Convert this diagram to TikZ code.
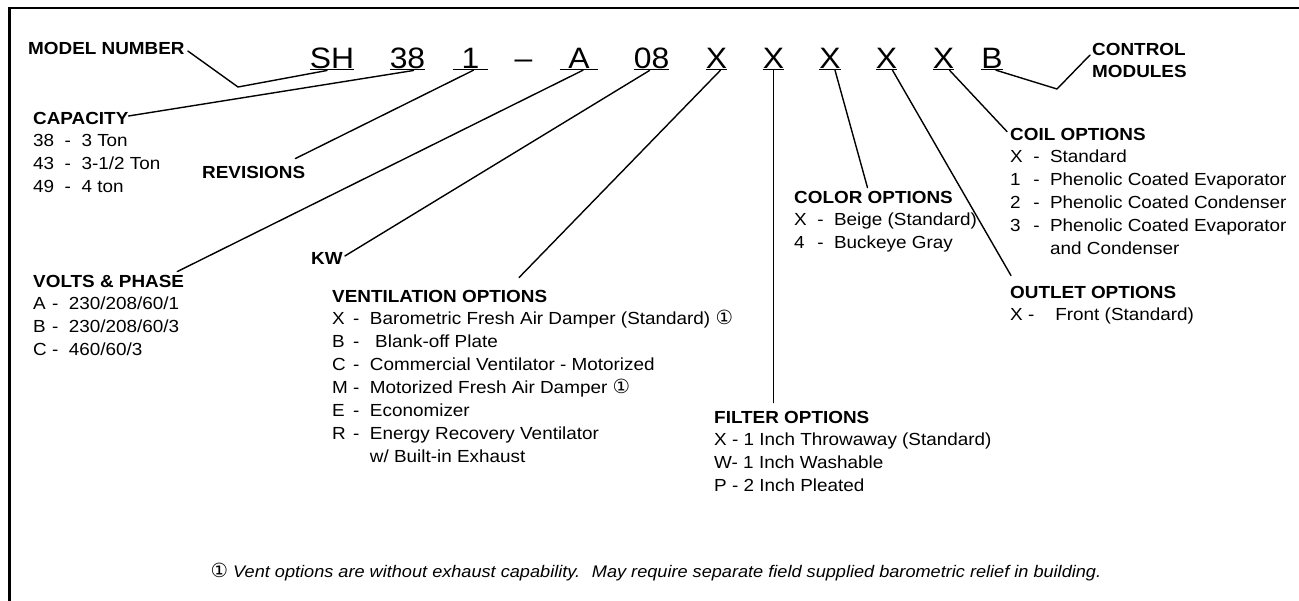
\documentclass[tikz,border=0pt]{standalone}
\usepackage{fontspec}
\setmainfont{Liberation Sans}[FakeStretch=1.08]
\newfontfamily\circfont{DejaVu Sans}
\usepackage{tikz}
\usetikzlibrary{positioning}
\newcommand{\circone}{{\circfont\fontsize{19.5}{19.5}\selectfont ①}}

\begin{document}
\begin{tikzpicture}[x=1pt,y=-1pt,node distance=22.5pt,
  codebox/.style={font=\fontsize{29.5}{30}\selectfont,inner sep=0pt,anchor=base},
  heading/.style={font=\fontsize{17.5}{22.5}\selectfont\bfseries,inner sep=0pt,anchor=base west},
  optlist/.style={font=\fontsize{17.5}{23}\selectfont,inner sep=0pt},
  note/.style={font=\fontsize{16.8}{20}\selectfont,inner sep=0pt,anchor=base},
  leader/.style={line width=1.4pt,line cap=round,line join=round}]

\useasboundingbox (0,0) rectangle (1299,600);
\draw[line width=2.7pt] (9.3,620) -- (9.3,8) -- (1320,8);

% model number code
\node[codebox] (sh)     at (332,68)   {\underline{SH}};
\node[codebox] (c38)    at (407.5,68) {\underline{38}};
\node[codebox] (rev)    at (470.5,68) {\underline{\ 1\ }};
\node[codebox] (dash)   at (523.5,68) {--};
\node[codebox] (volt)   at (579,68)   {\underline{\ A\ }};
\node[codebox] (kw)     at (651.5,68) {\underline{08}};
\node[codebox] (vent)   at (716.5,68) {\underline{X}};
\node[codebox] (filt)   at (773.5,68) {\underline{X}};
\node[codebox] (color)  at (830,68)   {\underline{X}};
\node[codebox] (outlet) at (886.5,68) {\underline{X}};
\node[codebox] (coil)   at (943.5,68) {\underline{X}};
\node[codebox] (ctrl)   at (992,68)   {\underline{B}};

% headings
\node[heading] (modelnum)   at (28,54)   {MODEL NUMBER};
\node[heading] (capacity)   at (33,124)  {CAPACITY};
\node[heading] (revisions)  at (202,178) {REVISIONS};
\node[heading] (voltsphase) at (33,287)  {VOLTS \& PHASE};
\node[heading] (kwlabel)    at (311,264) {KW};
\node[heading] (ventopt)    at (332,302) {VENTILATION OPTIONS};
\node[heading] (filteropt)  at (714,423) {FILTER OPTIONS};
\node[heading] (coloropt)   at (794,203) {COLOR OPTIONS};
\node[heading] (outletopt)  at (1010,298) {OUTLET OPTIONS};
\node[heading] (coilopt)    at (1010,140) {COIL OPTIONS};
\node[heading] (ctrlmod)    at (1092,55) {\begin{tabular}[t]{@{}l@{}}CONTROL\\MODULES\end{tabular}};

% option lists
\node[optlist] (caplist) [below=of capacity.base west,anchor=base west]
  {\begin{tabular}[t]{@{}l@{~~}l@{~~}l@{}}38&-&3 Ton\\43&-&3-1/2 Ton\\49&-&4 ton\end{tabular}};
\node[optlist] (voltlist) [below=of voltsphase.base west,anchor=base west]
  {\begin{tabular}[t]{@{}l@{\ }l@{\ \ }l@{}}A&-&230/208/60/1\\B&-&230/208/60/3\\C&-&460/60/3\end{tabular}};
\node[optlist] (ventlist) [below=of ventopt.base west,anchor=base west]
  {\begin{tabular}[t]{@{}l@{\ }l@{\ \ }l@{}}
   X&-&Barometric Fresh Air Damper (Standard) \circone\\
   B&-&\ Blank-off Plate\\
   C&-&Commercial Ventilator - Motorized\\
   M&-&Motorized Fresh Air Damper \circone\\
   E&-&Economizer\\
   R&-&Energy Recovery Ventilator\\
    & &w/ Built-in Exhaust
   \end{tabular}};
\node[optlist] (filterlist) [below=of filteropt.base west,anchor=base west]
  {\begin{tabular}[t]{@{}l@{}}X - 1 Inch Throwaway (Standard)\\W- 1 Inch Washable\\P - 2 Inch Pleated\end{tabular}};
\node[optlist] (colorlist) [below=of coloropt.base west,anchor=base west]
  {\begin{tabular}[t]{@{}l@{~~}l@{~~}l@{}}X&-&Beige (Standard)\\4&-&Buckeye Gray\end{tabular}};
\node[optlist] (outletlist) [below=of outletopt.base west,anchor=base west]
  {X -~~~~Front (Standard)};
\node[optlist] (coillist) [below=of coilopt.base west,anchor=base west]
  {\begin{tabular}[t]{@{}l@{~~}l@{~~}l@{}}
   X&-&Standard\\
   1&-&Phenolic Coated Evaporator\\
   2&-&Phenolic Coated Condenser\\
   3&-&Phenolic Coated Evaporator\\
    & &and Condenser
   \end{tabular}};

\node[note] (fnote) at (656,577)
  {\circone\ \itshape Vent options are without exhaust capability.~ May require separate field supplied barometric relief in building.};

\coordinate (v_model) at (238,87);
\coordinate (v_ctrl)  at (1057,89);

\draw[leader] ([xshift=-5pt]sh.south) -- (v_model) -- ([xshift=3pt,yshift=3pt]modelnum.base east);
\draw[leader] ([xshift=4pt]ctrl.south) -- (v_ctrl) -- ([xshift=-2pt]ctrlmod.base west);
\path[leader,draw]
  ([xshift=6pt]c38.south)   edge ([yshift=2pt]capacity.east)
  ([xshift=3pt]rev.south)   edge ([xshift=-10pt,yshift=7pt]revisions.north east)
  ([xshift=4pt]volt.south)  edge ([xshift=-7pt,yshift=3pt]voltsphase.north east)
  ([xshift=-2pt]kw.south)   edge ([xshift=2pt,yshift=2pt]kwlabel.east)
  ([xshift=4pt]vent.south)  edge ([xshift=187pt,yshift=12pt]ventopt.north west)
  (filt.south)              edge [shorten >=8pt] (filt.south |- filteropt.north)
  ([xshift=5pt]color.south) edge ([xshift=-6pt,yshift=3pt]coloropt.north)
  ([xshift=6pt]outlet.south) edge ([xshift=1pt,yshift=10pt]outletopt.north west)
  ([xshift=6pt]coil.south)  edge ([xshift=-3pt,yshift=-4pt]coilopt.north west);

\end{tikzpicture}
\end{document}
